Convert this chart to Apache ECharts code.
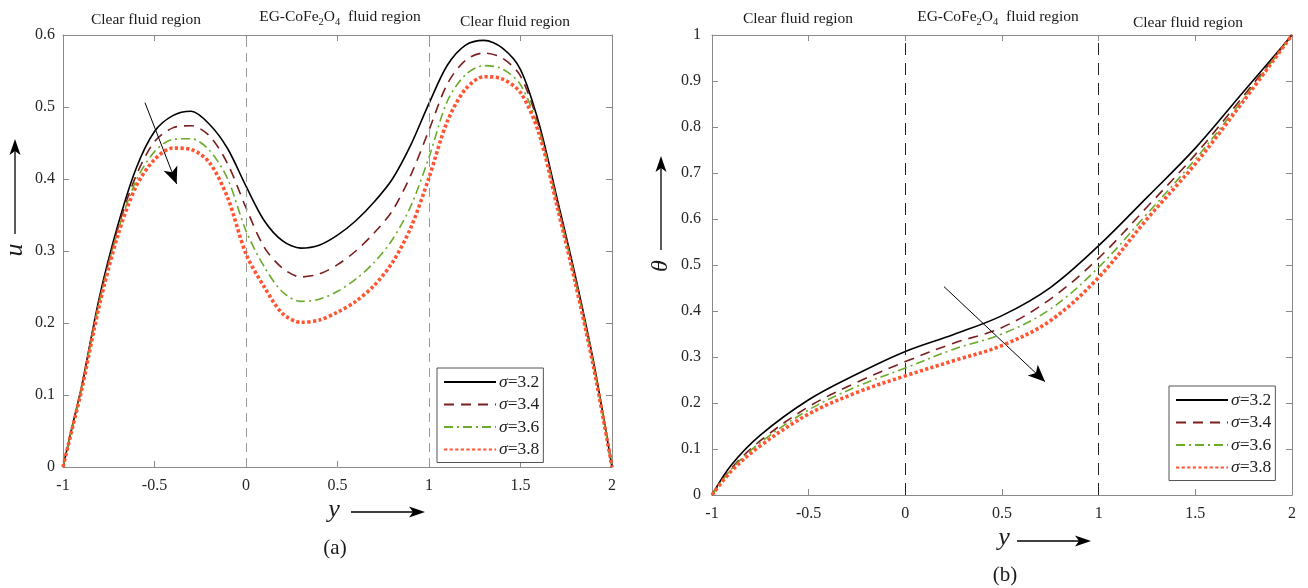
<!DOCTYPE html>
<html><head><meta charset="utf-8">
<script src="https://cdn.jsdelivr.net/npm/echarts@6/dist/echarts.min.js"></script>
<style>html,body{margin:0;padding:0;background:#fff}#c{width:1308px;height:588px}</style>
</head><body><div id="c"></div>
<script>
// ---------- data ----------
const seriesNames = ['σ=3.2', 'σ=3.4', 'σ=3.6', 'σ=3.8'];
const regionLabels = ['Clear fluid region', 'EG-CoFe{s|2}O{s|4}  fluid region', 'Clear fluid region'];

// (a) velocity u vs y
const uY   = [-1, -0.95, -0.9, -0.8, -0.7, -0.6, -0.5, -0.4, -0.3, -0.2, -0.1, 0, 0.1, 0.2, 0.3, 0.4, 0.5, 0.6, 0.7, 0.8, 0.9, 1.0, 1.1, 1.2, 1.3, 1.4, 1.5, 1.6, 1.7, 1.8, 1.9, 2.0];
const u32  = [0, 0.056, 0.110, 0.237, 0.336, 0.415, 0.466, 0.488, 0.494, 0.476, 0.442, 0.390, 0.342, 0.314, 0.304, 0.308, 0.322, 0.342, 0.368, 0.400, 0.447, 0.505, 0.558, 0.586, 0.5925, 0.582, 0.552, 0.478, 0.373, 0.265, 0.145, 0];
const u34  = [0, 0.055, 0.108, 0.233, 0.332, 0.405, 0.452, 0.471, 0.474, 0.460, 0.421, 0.360, 0.305, 0.276, 0.264, 0.268, 0.281, 0.300, 0.325, 0.356, 0.405, 0.468, 0.532, 0.565, 0.575, 0.568, 0.543, 0.474, 0.369, 0.261, 0.142, 0];
const u36  = [0, 0.054, 0.107, 0.230, 0.328, 0.398, 0.438, 0.455, 0.456, 0.440, 0.400, 0.328, 0.278, 0.243, 0.230, 0.233, 0.244, 0.261, 0.284, 0.316, 0.362, 0.430, 0.508, 0.545, 0.5575, 0.553, 0.531, 0.469, 0.366, 0.258, 0.140, 0];
const u38  = [0, 0.053, 0.105, 0.226, 0.322, 0.390, 0.427, 0.443, 0.441, 0.423, 0.374, 0.296, 0.250, 0.213, 0.201, 0.204, 0.215, 0.230, 0.252, 0.284, 0.332, 0.402, 0.480, 0.525, 0.542, 0.539, 0.520, 0.464, 0.362, 0.255, 0.138, 0];

// (b) temperature theta vs y
const thY  = [-1, -0.9, -0.75, -0.5, -0.25, 0, 0.25, 0.5, 0.75, 1, 1.25, 1.5, 1.75, 2];
const th32 = [0, 0.065, 0.130, 0.207, 0.263, 0.312, 0.349, 0.390, 0.451, 0.542, 0.647, 0.754, 0.877, 1];
const th34 = [0, 0.058, 0.118, 0.192, 0.245, 0.290, 0.330, 0.364, 0.426, 0.515, 0.626, 0.740, 0.868, 1];
const th36 = [0, 0.056, 0.114, 0.185, 0.236, 0.276, 0.317, 0.350, 0.404, 0.495, 0.611, 0.730, 0.862, 1];
const th38 = [0, 0.052, 0.107, 0.176, 0.223, 0.259, 0.292, 0.325, 0.379, 0.473, 0.600, 0.720, 0.857, 1];

// interface positions & trend arrows (data coordinates)
const interfaces = [0, 1];
const arrowA = [[-0.552, 0.506], [-0.379, 0.393]];
const arrowB = [[0.20, 0.453], [0.723, 0.246]];

// ---------- styles ----------
const FONT = 'Liberation Serif';
const lineStyles = [
  { color: '#000000', type: 'solid', width: 1.6 },
  { color: '#7b1e1e', type: [10, 7], width: 1.6 },
  { color: '#6aab2a', type: [9, 4, 2, 4], width: 1.6 },
  { color: '#ff5533', type: [3.2, 2.4], width: 3.6 }
];

const zip = (xs, ys) => xs.map((x, i) => [x, ys[i]]);
const uSets = [u32, u34, u36, u38];
const thSets = [th32, th34, th36, th38];

function axisCommon(min, max, interval) {
  return {
    type: 'value', min, max, interval,
    axisLine: { onZero: false, lineStyle: { color: '#8a8a8a', width: 1 } },
    axisTick: { inside: true, length: 6, lineStyle: { color: '#8a8a8a' } },
    splitLine: { show: false },
    axisLabel: { color: '#262626', fontFamily: FONT, fontSize: 16 }
  };
}
function xAx(grid, pos) {
  const a = axisCommon(-1, 2, 0.5);
  a.gridIndex = grid; a.position = pos;
  if (pos === 'top') a.axisLabel = { show: false }; else a.axisLabel.margin = 11;
  return a;
}
function yAx(grid, pos, max, margin) {
  const a = axisCommon(0, max, 0.1);
  a.gridIndex = grid; a.position = pos;
  if (pos === 'right') a.axisLabel = { show: false }; else a.axisLabel.margin = margin;
  return a;
}

function makeSeries(sets, xs, gi, xi, yi, vColor, vDash, arrow, sm) {
  return sets.map((ys, k) => {
    const s = {
      name: seriesNames[k], type: 'line', xAxisIndex: xi, yAxisIndex: yi,
      data: zip(xs, ys), smooth: sm, symbol: 'none', showSymbol: false,
      lineStyle: Object.assign({ cap: 'butt' }, lineStyles[k]),
      itemStyle: { color: lineStyles[k].color },
      animation: false, z: 3 + k
    };
    if (k === 0) {
      s.markLine = {
        silent: true, animation: false, symbol: ['none', 'none'],
        label: { show: false },
        data: interfaces.map(v => ({ xAxis: v, lineStyle: { color: vColor, type: vDash, width: 1 } }))
          .concat([[
            { coord: arrow[0], symbol: 'none', lineStyle: { color: '#000', type: 'solid', width: 1 } },
            { coord: arrow[1], symbol: 'arrow', symbolSize: [11, 17] }
          ]])
      };
    }
    return s;
  });
}

function legendFor(left, top, gap) {
  return {
    data: seriesNames.map(n => ({ name: n, itemStyle: { opacity: 0 } })),
    orient: 'vertical', left, top,
    itemWidth: 52, itemHeight: 14, itemGap: gap,
    padding: [5, 4, 4, 6], borderColor: '#555', borderWidth: 1, backgroundColor: '#fff',
    selectedMode: false,
    itemStyle: { opacity: 0 },
    textStyle: { fontFamily: FONT, fontSize: 17.5, color: '#222', padding: [0, 0, 0, -2],
      rich: { i: { fontFamily: FONT, fontSize: 17.5, fontStyle: 'italic', color: '#222' } } },
    formatter: n => '{i|σ}' + n.slice(1)
  };
}

function arrowShapes(x1, y1, x2, y2) {
  const dx = x2 - x1, dy = y2 - y1, L = Math.hypot(dx, dy), ux = dx / L, uy = dy / L, px = -uy, py = ux;
  const hl = 16, hw = 5.5, notch = 4;
  const bx = x2 - ux * hl, by = y2 - uy * hl;
  return [
    { type: 'line', shape: { x1, y1, x2: x2 - ux * 8, y2: y2 - uy * 8 }, style: { stroke: '#000', lineWidth: 1.3 } },
    { type: 'polygon', shape: { points: [[x2, y2], [bx + px * hw, by + py * hw], [x2 - ux * (hl - notch), y2 - uy * (hl - notch)], [bx - px * hw, by - py * hw]] }, style: { fill: '#000' } }
  ];
}
function txt(x, y, text, size, extra) {
  return { type: 'text', x, y, style: Object.assign({ text, fontFamily: FONT, fontSize: size, fill: '#1a1a1a', align: 'center', verticalAlign: 'middle',
    rich: { s: { fontFamily: FONT, fontSize: 10.5, fill: '#1a1a1a', padding: [10, 0, 0, 0] } } }, extra || {}) };
}

const graphics = [
  txt(146, 20, regionLabels[0], 15.5), txt(340, 17, regionLabels[1], 15.5), txt(515, 22, regionLabels[2], 15.5),
  txt(798, 19, regionLabels[0], 15.5), txt(998, 17, regionLabels[1], 15.5), txt(1188, 23, regionLabels[2], 15.5),
  Object.assign(txt(15, 250, 'u', 26, { fontStyle: 'italic' }), { rotation: Math.PI / 2 }),
  Object.assign(txt(661, 266, 'θ', 24, { fontStyle: 'italic' }), { rotation: Math.PI / 2 }),
  txt(334, 510, 'y', 26, { fontStyle: 'italic' }),
  txt(1004, 538, 'y', 26, { fontStyle: 'italic' }),
  txt(335, 548, '(a)', 21), txt(1005, 575, '(b)', 21)
].concat(
  arrowShapes(15, 234, 15, 139),
  arrowShapes(661, 250, 661, 156),
  arrowShapes(351, 512, 425, 512),
  arrowShapes(1017, 541, 1091, 541)
);

const chart = echarts.init(document.getElementById('c'), null, { renderer: 'canvas' });
chart.setOption({
  backgroundColor: '#fff',
  animation: false,
  grid: [
    { left: 63, top: 35, width: 549, height: 432 },
    { left: 712, top: 35, width: 580, height: 460 }
  ],
  xAxis: [xAx(0, 'bottom'), xAx(0, 'top'), xAx(1, 'bottom'), xAx(1, 'top')],
  yAxis: [yAx(0, 'left', 0.6, 8), yAx(0, 'right', 0.6), yAx(1, 'left', 1, 11), yAx(1, 'right', 1)],
  legend: [legendFor(437, 368, 4.5), legendFor(1169, 386, 4.5)],
  series: makeSeries(uSets, uY, 0, 0, 0, '#9a9a9a', [9, 6], arrowA, 0.3)
    .concat(makeSeries(thSets, thY, 1, 2, 2, '#222', [12, 8], arrowB, 0.35)),
  graphic: graphics
});
</script></body></html>
